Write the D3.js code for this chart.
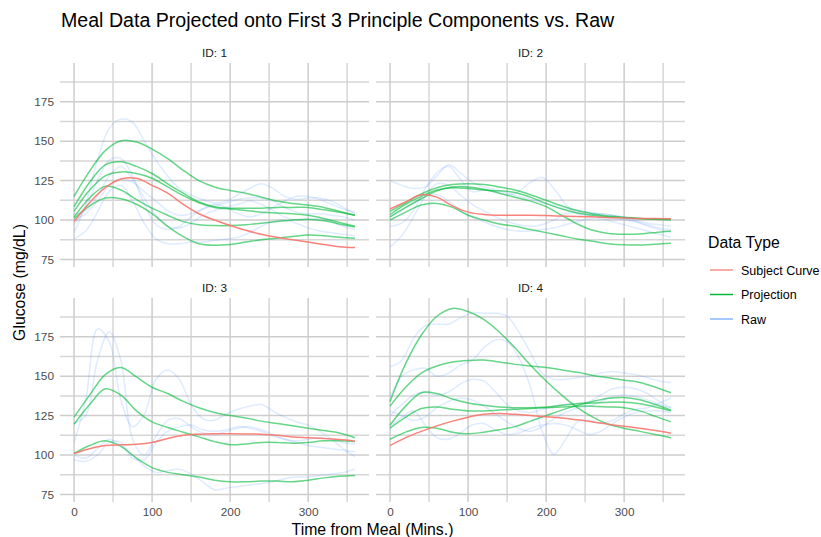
<!DOCTYPE html>
<html>
<head>
<meta charset="utf-8">
<script src="https://cdn.jsdelivr.net/npm/d3@7"></script>
<style>
  body { margin: 0; background: #fff; }
  text { font-family: "Liberation Sans", Arial, Helvetica, sans-serif; }
</style>
</head>
<body>
<svg id="chart"></svg>
<script>
// glucose curves per subject, time from meal in minutes

const timeSmooth = d3.range(0, 361, 20);   // projections + subject curves
const timeRaw = d3.range(0, 361, 15);      // raw meals

const panelIds = [1, 2, 3, 4];
const dataTypes = ["Subject Curve", "Projection", "Raw"];
const yTicks = [75, 100, 125, 150, 175];
const xTicks = [0, 100, 200, 300];

// ID 1
const subject1 = [99, 111, 120.5, 126, 126.5, 122, 117, 110, 104, 100, 96.5, 93.5, 91, 89, 87.5, 86, 84.5, 83, 82.5];
const proj1 = [
  [115, 131, 144, 150.3, 149.5, 145, 139, 131.5, 125, 121, 118.75, 117, 114.5, 112, 110.5, 109.5, 108, 105.5, 103],
  [108.5, 124, 135, 137, 134, 129.5, 123, 117, 111.5, 108.5, 107.5, 107.5, 107.5, 108, 108, 108, 106.5, 105, 103],
  [105.5, 119, 128, 130.5, 129.5, 126.5, 121, 115.5, 111, 108, 107, 106, 105, 104.5, 104, 103, 101, 98.5, 96],
  [102, 114, 121.5, 119, 113, 107.5, 103, 99, 97, 96.5, 96.5, 97, 98, 99, 100, 100.5, 99.5, 97.5, 95.5],
  [101, 109, 114, 113.5, 110, 104, 96, 89.5, 85, 84, 84.5, 86, 87.5, 88.5, 89.5, 90.5, 90, 89, 88.5]
];
const raw1 = [
  [92, 110, 138, 158, 164, 162, 150, 138, 128, 120, 116, 113, 111, 112, 116, 120, 123, 120, 115, 113, 114, 114, 112, 108, 104],
  [97, 108, 125, 138, 139, 128, 110, 97, 94, 96, 102, 107, 110, 108, 104, 102, 104, 108, 112, 115, 115, 113, 110, 107, 105],
  [104, 106, 115, 128, 134, 126, 114, 103, 96, 95, 98, 103, 106, 108, 110, 112, 110, 106, 102, 100, 100, 101, 99, 96, 94],
  [88, 93, 105, 118, 122, 112, 98, 88, 85, 85, 86, 86, 87, 88, 89, 92, 96, 99, 100, 98, 95, 93, 92, 91, 90],
  [100, 104, 112, 122, 126, 124, 118, 112, 106, 103, 104, 107, 109, 111, 113, 114, 114, 112, 108, 105, 104, 104, 103, 102, 100]
];

// ID 2
const subject2 = [107, 111.5, 116, 114.5, 109, 105, 103.5, 103, 103, 103, 102.8, 102.5, 102.2, 102, 101.5, 101.3, 101, 101, 100.8];
const proj2 = [
  [105.5, 111, 116.5, 120.5, 122.5, 123, 122.5, 121, 119, 116, 112.5, 109, 106, 104, 102.5, 101.8, 101, 100.5, 100.3],
  [103.5, 110, 115, 119, 120.5, 120, 119, 118.5, 117.5, 114.5, 110.5, 107, 104.5, 103, 102, 101.5, 101, 100.5, 100.2],
  [102, 108, 113.5, 118.5, 121, 121, 119.5, 117, 114.5, 112, 108.5, 103, 97.5, 93.5, 91.5, 91, 91.2, 92, 93],
  [100, 105, 109.5, 110.5, 108, 103, 100, 97.5, 96, 94, 92, 90, 88, 86.5, 85, 84.3, 84.2, 84.7, 85.3]
];
const raw2 = [
  [125, 122, 120, 121, 128, 135, 130, 124, 121, 119, 117, 115, 113, 111, 109, 107, 106, 105, 104, 103, 102, 100, 98, 97, 96],
  [96, 98, 106, 120, 130, 134, 126, 118, 119, 118, 116, 118, 124, 127, 120, 110, 104, 103, 104, 103, 101, 99, 97, 95, 94],
  [83, 90, 102, 115, 123, 122, 116, 110, 106, 102, 99, 97, 96, 97, 100, 104, 105, 104, 103, 101, 100, 99, 96, 94, 92],
  [102, 106, 111, 115, 116, 112, 106, 102, 99, 96, 94, 93, 93, 94, 95, 97, 99, 101, 101, 99, 97, 95, 93, 91, 89]
];

// ID 3
const subject3 = [101, 104, 106, 106.5, 106.8, 108, 110.5, 112.5, 113.2, 113.5, 113.5, 113.4, 113.2, 112.5, 111.5, 111, 110.5, 109.8, 108.8];
const proj3 = [
  [124, 138, 151, 155.5, 149.5, 143, 139, 134, 130, 127, 125, 123.5, 121.5, 120, 118.5, 117, 115.5, 114, 111],
  [119.5, 132, 142, 138, 128, 121, 117.5, 114.5, 111.5, 108.5, 106.5, 107, 108, 108, 107.5, 108, 109, 109, 108.5],
  [101, 106, 109, 105.5, 98, 92, 89, 87.5, 86, 84, 83, 83, 83.5, 83.5, 83, 84, 85.5, 86.5, 87]
];
const raw3 = [
  [108, 135, 180, 172, 135, 118, 126, 148, 154, 148, 132, 123, 122, 126, 129, 131, 132, 128, 124, 121, 119, 115, 110, 104, 99],
  [120, 125, 160, 178, 160, 110, 100, 112, 122, 123, 118, 114, 113, 115, 117, 118, 116, 113, 110, 108, 106, 105, 104, 103, 102],
  [97, 96, 100, 108, 108, 98, 97, 108, 115, 118, 119, 116, 115, 116, 118, 117, 115, 112, 110, 109, 110, 111, 110, 108, 107],
  [100, 98, 104, 110, 106, 100, 93, 89, 90, 91, 88, 83, 78, 79, 80, 81, 82, 83, 85, 86, 86, 87, 88, 89, 91]
];

// ID 4
const subject4 = [106, 111, 115, 118.5, 121.5, 124, 125.8, 126.3, 125.8, 125, 124.3, 123.5, 122.3, 121, 119.5, 118.2, 117, 115.5, 113.8];
const proj4 = [
  [134, 158, 176, 188, 193, 191, 186, 178, 168, 157, 147, 138, 130, 124, 119.5, 117, 115, 113, 111],
  [131, 143, 152, 156.5, 159, 160, 160.2, 159, 157.5, 156.5, 155.5, 154, 152.5, 150.5, 149, 147.5, 146, 143, 139.5],
  [119, 131, 139.5, 139, 135.5, 133, 131.5, 130.5, 130, 130, 130.5, 131.5, 132.5, 133, 133.5, 133.5, 132.5, 130.5, 128],
  [117, 124, 129.5, 130.5, 129, 128, 128, 128.5, 129, 129.5, 130, 130.5, 131, 131, 130.5, 130, 128, 124.5, 121],
  [110, 114.5, 117.5, 117, 114.5, 113.5, 114.5, 116, 118, 121.5, 125, 128.5, 131.5, 134, 136, 136.5, 135, 132, 128.5]
];
const raw4 = [
  [156, 160, 174, 182, 183, 183, 187, 190, 190, 190, 188, 178, 165, 152, 148, 148, 149, 150, 152, 153, 152, 151, 149, 147, 146],
  [137, 150, 154, 155, 150, 152, 157, 160, 168, 173, 172, 162, 143, 115, 100.5, 110, 121, 122, 120, 122, 126, 129, 130, 133, 136],
  [125, 132, 138, 140, 138, 140, 145, 148, 147, 140, 132, 128, 127, 129, 131, 132, 133, 134, 138, 142, 143, 142, 139, 134, 130],
  [128, 125, 122, 124, 130, 134, 136, 135, 131, 126, 121, 117, 115, 118, 123, 127, 130, 131, 134, 137, 138, 137, 135, 132, 130],
  [118, 124, 128, 119, 111, 110, 114, 119, 120, 116, 113, 114, 117, 119, 120, 119, 116, 113, 115, 120, 124, 127, 128, 128, 127]
];

const subjects = [subject1, subject2, subject3, subject4];
const projections = [proj1, proj2, proj3, proj4];
const raws = [raw1, raw2, raw3, raw4];

// layout
const width = 821, height = 537;
const panelLeft = [60, 376];
const panelTop = [63, 298];
const panelW = 309, panelH = 204;
const typeColor = {"Subject Curve": "#F8766D", "Projection": "#00BA38", "Raw": "#619CFF"};

const svg = d3.select("#chart").attr("width", width).attr("height", height);

svg.append("text")
  .attr("x", 61).attr("y", 26.5)
  .attr("font-size", 19.6).attr("fill", "#000")
  .text("Meal Data Projected onto First 3 Principle Components vs. Raw");

panelIds.forEach((id, i) => {
  let col = i % 2, row = Math.floor(i / 2);
  let x0 = panelLeft[col], y0 = panelTop[row];

  let x = d3.scaleLinear().domain([-18, 378]).range([x0, x0 + panelW]);
  let y = d3.scaleLinear().domain([70.2, 199.6]).range([y0 + panelH, y0]);

  let g = svg.append("g");

  // minor grid
  g.selectAll(".xminor").data([50, 150, 250, 350]).join("line")
    .attr("x1", d => x(d)).attr("x2", d => x(d))
    .attr("y1", y0).attr("y2", y0 + panelH)
    .attr("stroke", "#d6d6d6").attr("stroke-width", 1.5);
  g.selectAll(".yminor").data([87.5, 112.5, 137.5, 162.5, 187.5]).join("line")
    .attr("x1", x0).attr("x2", x0 + panelW)
    .attr("y1", d => y(d)).attr("y2", d => y(d))
    .attr("stroke", "#d6d6d6").attr("stroke-width", 1.5);
  // major grid
  g.selectAll(".xmajor").data(xTicks).join("line")
    .attr("x1", d => x(d)).attr("x2", d => x(d))
    .attr("y1", y0).attr("y2", y0 + panelH)
    .attr("stroke", "#cdcdcd").attr("stroke-width", 1.5);
  g.selectAll(".ymajor").data(yTicks).join("line")
    .attr("x1", x0).attr("x2", x0 + panelW)
    .attr("y1", d => y(d)).attr("y2", d => y(d))
    .attr("stroke", "#cdcdcd").attr("stroke-width", 1.5);

  let lineSmooth = d3.line()
    .x((d, k) => x(timeSmooth[k]))
    .y(d => y(d))
    .curve(d3.curveCatmullRom.alpha(0.5));
  let lineRaw = d3.line()
    .x((d, k) => x(timeRaw[k]))
    .y(d => y(d))
    .curve(d3.curveCatmullRom.alpha(0.5));

  g.selectAll(".raw").data(raws[i]).join("path")
    .attr("d", lineRaw)
    .attr("fill", "none")
    .attr("stroke", typeColor["Raw"])
    .attr("stroke-opacity", 0.2)
    .attr("stroke-width", 1.5);

  g.selectAll(".proj").data(projections[i]).join("path")
    .attr("d", lineSmooth)
    .attr("fill", "none")
    .attr("stroke", typeColor["Projection"])
    .attr("stroke-opacity", 0.6)
    .attr("stroke-width", 1.5);

  g.append("path")
    .datum(subjects[i])
    .attr("d", lineSmooth)
    .attr("fill", "none")
    .attr("stroke", typeColor["Subject Curve"])
    .attr("stroke-opacity", 0.9)
    .attr("stroke-width", 1.5);

  // strip
  svg.append("text")
    .attr("x", x0 + panelW / 2).attr("y", y0 - 6)
    .attr("text-anchor", "middle")
    .attr("font-size", 11.8).attr("fill", "#1a1a1a")
    .text("ID: " + id);

  // axes
  if (col == 0){
    let ay = svg.append("g")
      .attr("transform", "translate(" + x0 + ",0)")
      .call(d3.axisLeft(y).tickValues(yTicks).tickSize(0).tickPadding(6));
    ay.select(".domain").remove();
    ay.selectAll("text").attr("font-size", 11.8).attr("fill", "#4d4d4d")
      .attr("font-family", "Liberation Sans, Arial, sans-serif");
  }
  if (row == 1){
    let ax = svg.append("g")
      .attr("transform", "translate(0," + (y0 + panelH) + ")")
      .call(d3.axisBottom(x).tickValues(xTicks).tickSize(0).tickPadding(6));
    ax.select(".domain").remove();
    ax.selectAll("text").attr("font-size", 11.8).attr("fill", "#4d4d4d")
      .attr("font-family", "Liberation Sans, Arial, sans-serif");
  }
});

// axis titles
svg.append("text")
  .attr("x", (panelLeft[0] + panelLeft[1] + panelW) / 2).attr("y", 535)
  .attr("text-anchor", "middle")
  .attr("font-size", 15.8).attr("fill", "#000")
  .text("Time from Meal (Mins.)");

svg.append("text")
  .attr("transform", "translate(25," + (panelTop[0] + panelTop[1] + panelH) / 2 + ") rotate(-90)")
  .attr("text-anchor", "middle")
  .attr("font-size", 15.8).attr("fill", "#000")
  .text("Glucose (mg/dL)");

// legend
let legend = svg.append("g").attr("transform", "translate(708,0)");
legend.append("text")
  .attr("x", 0).attr("y", 248)
  .attr("font-size", 15.8).attr("fill", "#000")
  .text("Data Type");

let keyOpacity = {"Subject Curve": 0.8, "Projection": 1, "Raw": 0.75};
let items = legend.selectAll(".item").data(dataTypes).join("g")
  .attr("transform", (d, k) => "translate(0," + (270 + k * 24.5) + ")");
items.append("line")
  .attr("x1", 2).attr("x2", 25)
  .attr("stroke", d => typeColor[d])
  .attr("stroke-opacity", d => keyOpacity[d])
  .attr("stroke-width", 1.5);
items.append("text")
  .attr("x", 33).attr("y", 4.5)
  .attr("font-size", 12.5).attr("fill", "#000")
  .text(d => d);
</script>
</body>
</html>
